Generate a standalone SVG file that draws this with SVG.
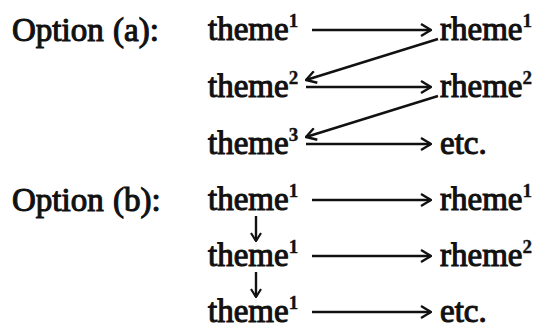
<svg xmlns="http://www.w3.org/2000/svg" width="540" height="335" viewBox="0 0 540 335">
<defs>
<style>
text{font-family:"Liberation Serif","DejaVu Serif",serif;font-size:33px;fill:#111;stroke:#111;stroke-width:1.1;}
.sup{font-size:19px;font-weight:bold;stroke-width:0.4;}
.c line{stroke:#111;stroke-width:2.4;fill:none;marker-end:url(#ah);}
.c line.d{marker-end:url(#ahs);}
</style>
<marker id="ah" viewBox="0 0 12 14" refX="11" refY="7" markerWidth="12" markerHeight="14" markerUnits="userSpaceOnUse" orient="auto">
<path d="M1,1 L11,7 L1,13" fill="none" stroke="#111" stroke-width="2.4"/>
</marker>
<marker id="ahs" viewBox="0 0 10 12" refX="9" refY="6" markerWidth="10" markerHeight="12" markerUnits="userSpaceOnUse" orient="auto">
<path d="M1,1 L9,6 L1,11" fill="none" stroke="#111" stroke-width="2.2"/>
</marker>
</defs>
<text x="12" y="41">Option<tspan x="113">(a):</tspan></text>
<text x="12" y="211">Option<tspan x="113">(b):</tspan></text>
<g id="a-theme1"><text x="208" y="40">theme<tspan class="sup" dy="-13">1</tspan></text></g>
<g id="a-rheme1"><text x="440" y="40">rheme<tspan class="sup" dy="-13">1</tspan></text></g>
<g id="a-theme2"><text x="208" y="97">theme<tspan class="sup" dy="-13">2</tspan></text></g>
<g id="a-rheme2"><text x="440" y="97">rheme<tspan class="sup" dy="-13">2</tspan></text></g>
<g id="a-theme3"><text x="208" y="154">theme<tspan class="sup" dy="-13">3</tspan></text></g>
<g id="a-etc"><text x="440" y="154">etc.</text></g>
<g id="b-theme1"><text x="208" y="210">theme<tspan class="sup" dy="-13">1</tspan></text></g>
<g id="b-rheme1"><text x="440" y="210">rheme<tspan class="sup" dy="-13">1</tspan></text></g>
<g id="b-theme1b"><text x="208" y="266">theme<tspan class="sup" dy="-13">1</tspan></text></g>
<g id="b-rheme2"><text x="440" y="266">rheme<tspan class="sup" dy="-13">2</tspan></text></g>
<g id="b-theme1c"><text x="208" y="322">theme<tspan class="sup" dy="-13">1</tspan></text></g>
<g id="b-etc"><text x="440" y="322">etc.</text></g>
<g id="connectors" class="c">
<line x1="312" y1="30" x2="431" y2="30"/>
<line x1="438" y1="39" x2="306" y2="80"/>
<line x1="306" y1="87" x2="431" y2="87"/>
<line x1="438" y1="96" x2="306" y2="137"/>
<line x1="306" y1="144" x2="431" y2="144"/>
<line x1="312" y1="200" x2="431" y2="200"/>
<line x1="312" y1="256" x2="431" y2="256"/>
<line x1="312" y1="312" x2="431" y2="312"/>
<line class="d" x1="256" y1="216" x2="256" y2="241"/>
<line class="d" x1="256" y1="272" x2="256" y2="297"/>
</g>
</svg>
